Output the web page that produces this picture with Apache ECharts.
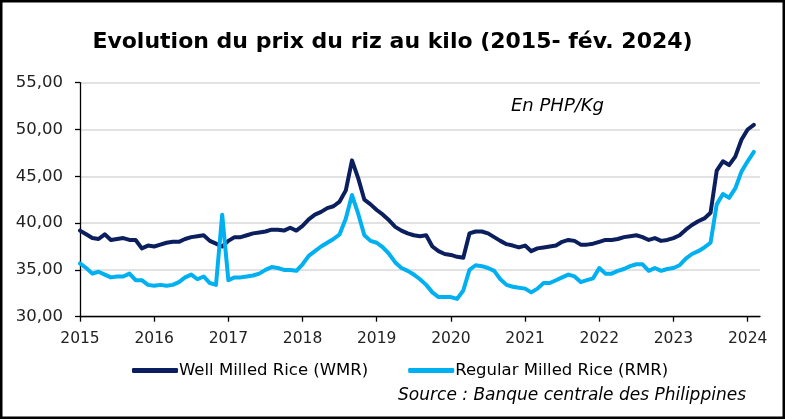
<!DOCTYPE html>
<html>
<head>
<meta charset="utf-8">
<script src="https://cdn.jsdelivr.net/npm/echarts@6/dist/echarts.min.js"></script>
<style>
html,body{margin:0;padding:0;background:#fff;}
#chart{width:785px;height:419px;}
</style>
</head>
<body>
<div id="chart"></div>
<script>
// Monthly data, Jan 2015 (index 0) to Feb 2024 (index 109)
const yearLabels = ['2015','2016','2017','2018','2019','2020','2021','2022','2023','2024'];
const seriesNames = ['Well Milled Rice (WMR)', 'Regular Milled Rice (RMR)'];
const wmr = [
  39.2,38.8,38.4,38.3,38.8,38.2,38.3,38.4,38.2,38.2,37.3,37.6,
  37.5,37.7,37.9,38.0,38.0,38.3,38.5,38.6,38.7,38.1,37.8,37.5,
  38.1,38.5,38.5,38.7,38.9,39.0,39.1,39.3,39.3,39.2,39.5,39.2,
  39.7,40.4,40.9,41.2,41.6,41.8,42.3,43.5,46.7,44.8,42.5,42.0,
  41.4,40.9,40.3,39.6,39.2,38.9,38.7,38.6,38.7,37.5,37.0,36.7,
  36.6,36.4,36.3,38.9,39.1,39.1,38.9,38.5,38.1,37.75,37.6,37.4,
  37.6,37.0,37.3,37.4,37.5,37.6,38.0,38.2,38.1,37.7,37.7,37.8,
  38.0,38.2,38.2,38.3,38.5,38.6,38.7,38.5,38.2,38.4,38.1,38.2,
  38.4,38.7,39.3,39.8,40.2,40.5,41.1,45.6,46.6,46.2,47.1,48.9,
  50.0,50.5
];
const rmr = [
  35.7,35.2,34.6,34.8,34.5,34.2,34.3,34.3,34.6,33.9,33.9,33.4,
  33.3,33.4,33.3,33.4,33.7,34.2,34.5,34.0,34.3,33.6,33.4,40.9,
  33.9,34.2,34.2,34.3,34.4,34.6,35.0,35.3,35.2,35.0,35.0,34.9,
  35.6,36.5,37.0,37.5,37.9,38.3,38.8,40.5,43.0,41.0,38.7,38.1,
  37.9,37.4,36.7,35.8,35.2,34.9,34.5,34.0,33.4,32.6,32.1,32.1,
  32.1,31.9,32.8,35.0,35.5,35.4,35.2,34.9,34.0,33.4,33.2,33.1,
  33.0,32.6,33.0,33.6,33.6,33.9,34.2,34.5,34.3,33.7,33.9,34.1,
  35.2,34.6,34.6,34.9,35.1,35.4,35.6,35.6,34.9,35.2,34.9,35.1,
  35.2,35.5,36.2,36.7,37.0,37.4,37.9,42.0,43.1,42.7,43.7,45.5,
  46.6,47.6
];

const FONT = 'DejaVu Sans';
const toPairs = arr => arr.map((v, i) => [i, v]);

const chart = echarts.init(document.getElementById('chart'), null, {renderer: 'canvas'});
chart.setOption({
  animation: false,
  backgroundColor: '#fff',
  title: [
    {
      text: 'Evolution du prix du riz au kilo (2015- fév. 2024)',
      left: 'center', top: 26,
      textStyle: {fontFamily: FONT, fontSize: 22, fontWeight: 'bold', color: '#000'}
    },
    {
      text: 'En PHP/Kg',
      left: 506, top: 92,
      textStyle: {fontFamily: FONT, fontSize: 18, fontStyle: 'italic', fontWeight: 'normal', color: '#000'}
    },
    {
      text: 'Source : Banque centrale des Philippines',
      right: 34, top: 382,
      textStyle: {fontFamily: FONT, fontSize: 17, fontStyle: 'italic', fontWeight: 'normal', color: '#000'}
    }
  ],
  graphic: [{
    type: 'rect', silent: true, z: 100,
    shape: {x: 1.25, y: 1.25, width: 782.5, height: 416.5},
    style: {fill: 'none', stroke: '#000', lineWidth: 2.5}
  }],
  legend: {
    left: 127, top: 357,
    itemGap: 40,
    itemWidth: 46, itemHeight: 5,
    icon: 'roundRect',
    textStyle: {fontFamily: FONT, fontSize: 16.5, color: '#000', padding: [0, 0, 0, -4]},
    data: seriesNames
  },
  grid: {left: 80, right: 25, top: 82.7, bottom: 102.3, containLabel: false},
  xAxis: {
    type: 'value', min: 0, max: 110, interval: 12,
    axisLine: {show: true, onZero: false, lineStyle: {color: '#000', width: 1.3}},
    axisTick: {show: true, length: 5, lineStyle: {color: '#000', width: 1.3}},
    splitLine: {show: false},
    axisLabel: {
      margin: 14, fontFamily: FONT, fontSize: 15.5, color: '#222',
      formatter: v => yearLabels[Math.round(v / 12)] || ''
    }
  },
  yAxis: {
    type: 'value', min: 30, max: 55, interval: 5,
    axisLine: {show: true, lineStyle: {color: '#000', width: 1.3}},
    axisTick: {show: true, length: 5, lineStyle: {color: '#000', width: 1.3}},
    splitLine: {show: true, lineStyle: {color: '#d9d9d9', width: 1.5}},
    axisLabel: {
      margin: 17, fontFamily: FONT, fontSize: 16.5, color: '#222',
      formatter: v => v.toFixed(2).replace('.', ',')
    }
  },
  series: [
    {
      name: seriesNames[0], type: 'line', data: toPairs(wmr),
      showSymbol: false, symbol: 'none', smooth: false,
      color: '#0b1f5e',
      lineStyle: {width: 4, color: '#0b1f5e', cap: 'round', join: 'round'}
    },
    {
      name: seriesNames[1], type: 'line', data: toPairs(rmr),
      showSymbol: false, symbol: 'none', smooth: false,
      color: '#00b0f0',
      lineStyle: {width: 4, color: '#00b0f0', cap: 'round', join: 'round'}
    }
  ]
});
</script>
</body>
</html>
